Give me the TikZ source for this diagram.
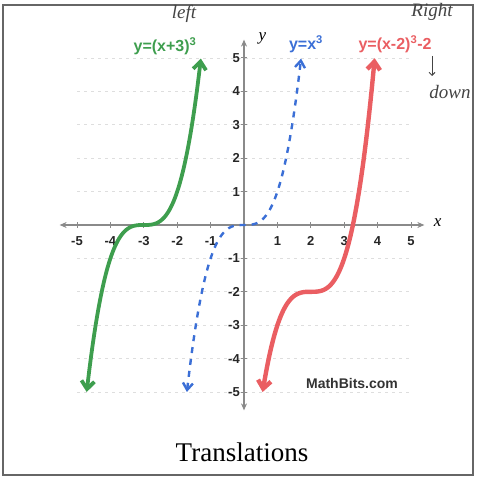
\documentclass[tikz,border=0pt]{standalone}
\usepackage{fontspec}
\setmainfont{Liberation Serif}
\setsansfont{Liberation Sans}
\usetikzlibrary{arrows.meta}
\definecolor{gcol}{HTML}{3E9E4E}
\definecolor{bcol}{HTML}{3B6FD6}
\definecolor{rcol}{HTML}{EA5E62}
\definecolor{axcol}{HTML}{8A8A8A}
\definecolor{penc}{HTML}{444444}
\tikzset{
  gridline/.style={draw=black!13, line width=0.8pt, dash pattern=on 3pt off 4pt},
  axisline/.style={draw=axcol, line width=2pt, {Stealth[length=7pt,width=6pt]}-{Stealth[length=7pt,width=6pt]}},
  curvegreen/.style={draw=gcol, line width=3.8pt, line cap=round, {Straight Barb[length=8pt,width=13pt]}-{Straight Barb[length=8pt,width=13pt]}},
  curvered/.style={draw=rcol, line width=4.4pt, line cap=round, {Straight Barb[length=8pt,width=13pt]}-{Straight Barb[length=8pt,width=13pt]}},
  curveblue/.style={draw=bcol, line width=2.4pt, dash pattern=on 6pt off 6pt, {Straight Barb[length=7pt,width=10pt]}-{Straight Barb[length=7pt,width=10pt]}},
  ticklab/.style={font=\sffamily\bfseries\fontsize{13}{13}\selectfont, text=black!85, inner sep=0pt},
  eqlab/.style={font=\sffamily\bfseries\fontsize{16}{16}\selectfont, inner sep=0pt},
  hand/.style={font=\itshape\fontsize{19}{19}\selectfont, text=penc, inner sep=0pt},
}
\begin{document}
\begin{tikzpicture}[x=1pt,y=-1pt]
\useasboundingbox (0,0) rectangle (477,478);
\draw[line width=1.3pt, black!60] (3,5) rectangle (473,475);
\begin{scope}[shift={(244,225)}, x=33.4pt, y=33.4pt]
  \foreach \k in {-5,-4,-3,-2,-1,1,2,3,4,5} {
    \draw[gridline] (-5,\k) -- (5,\k);
  }
  \coordinate (xl) at (-5.52,0);
  \coordinate (xr) at (5.4,0);
  \coordinate (yb) at (0,-5.55);
  \coordinate (yt) at (0,5.55);
  \draw[axisline] (xl) -- (xr);
  \draw[axisline] (yb) -- (yt);
  \foreach \k in {-5,-4,-3,-2,-1,1,2,3,4,5} {
    \draw[axcol, line width=1pt] (\k,-0.08) -- (\k,0.08);
    \draw[axcol, line width=1pt] (-0.08,\k) -- (0.08,\k);
    \node[ticklab] (xt\k) at (\k,-0.47) {\k};
    \node[ticklab, anchor=east] (yt\k) at (-0.12,\k) {\k};
  }
  \node[font=\itshape\fontsize{17}{17}\selectfont, inner sep=0pt] (xlab) at (5.8,0.08) {x};
  \node[font=\itshape\fontsize{17}{17}\selectfont, inner sep=0pt] (ylab) at (0.55,5.6) {y};
  \draw[curveblue, domain=-1.70998:1.70998, samples=161, smooth] plot (\x, {\x*\x*\x});
  \draw[curvegreen, domain=-4.70998:-1.29002, samples=161, smooth] plot (\x, {(\x+3)*(\x+3)*(\x+3)});
  \draw[curvered, domain=0.55775:3.91293, samples=161, smooth] plot (\x, {(\x-2)*(\x-2)*(\x-2)-2});
\end{scope}
\node[eqlab, text=gcol] (eqg) at (165,46) {y=(x+3)\textsuperscript{3}};
\node[eqlab, text=bcol] (eqb) at (306,44) {y=x\textsuperscript{3}};
\node[eqlab, text=rcol] (eqr) at (395,44) {y=(x-2)\textsuperscript{3}-2};
\node[hand] (left) at (184,14) {left};
\node[hand] (right) at (432,12) {Right};
\node[hand] (down) at (450,92) {down};
\coordinate (arA) at (432,56);
\coordinate (arB) at (432,76);
\draw[penc, line width=1pt, -{Straight Barb[length=3pt,width=6pt]}] (arA) -- (arB);
\node[font=\sffamily\bfseries\fontsize{14}{14}\selectfont, text=black!80, inner sep=0pt] (mb) at (352,383) {MathBits.com};
\node[font=\fontsize{27}{27}\selectfont, inner sep=0pt] (title) at (242,452) {Translations};
\end{tikzpicture}
\end{document}
